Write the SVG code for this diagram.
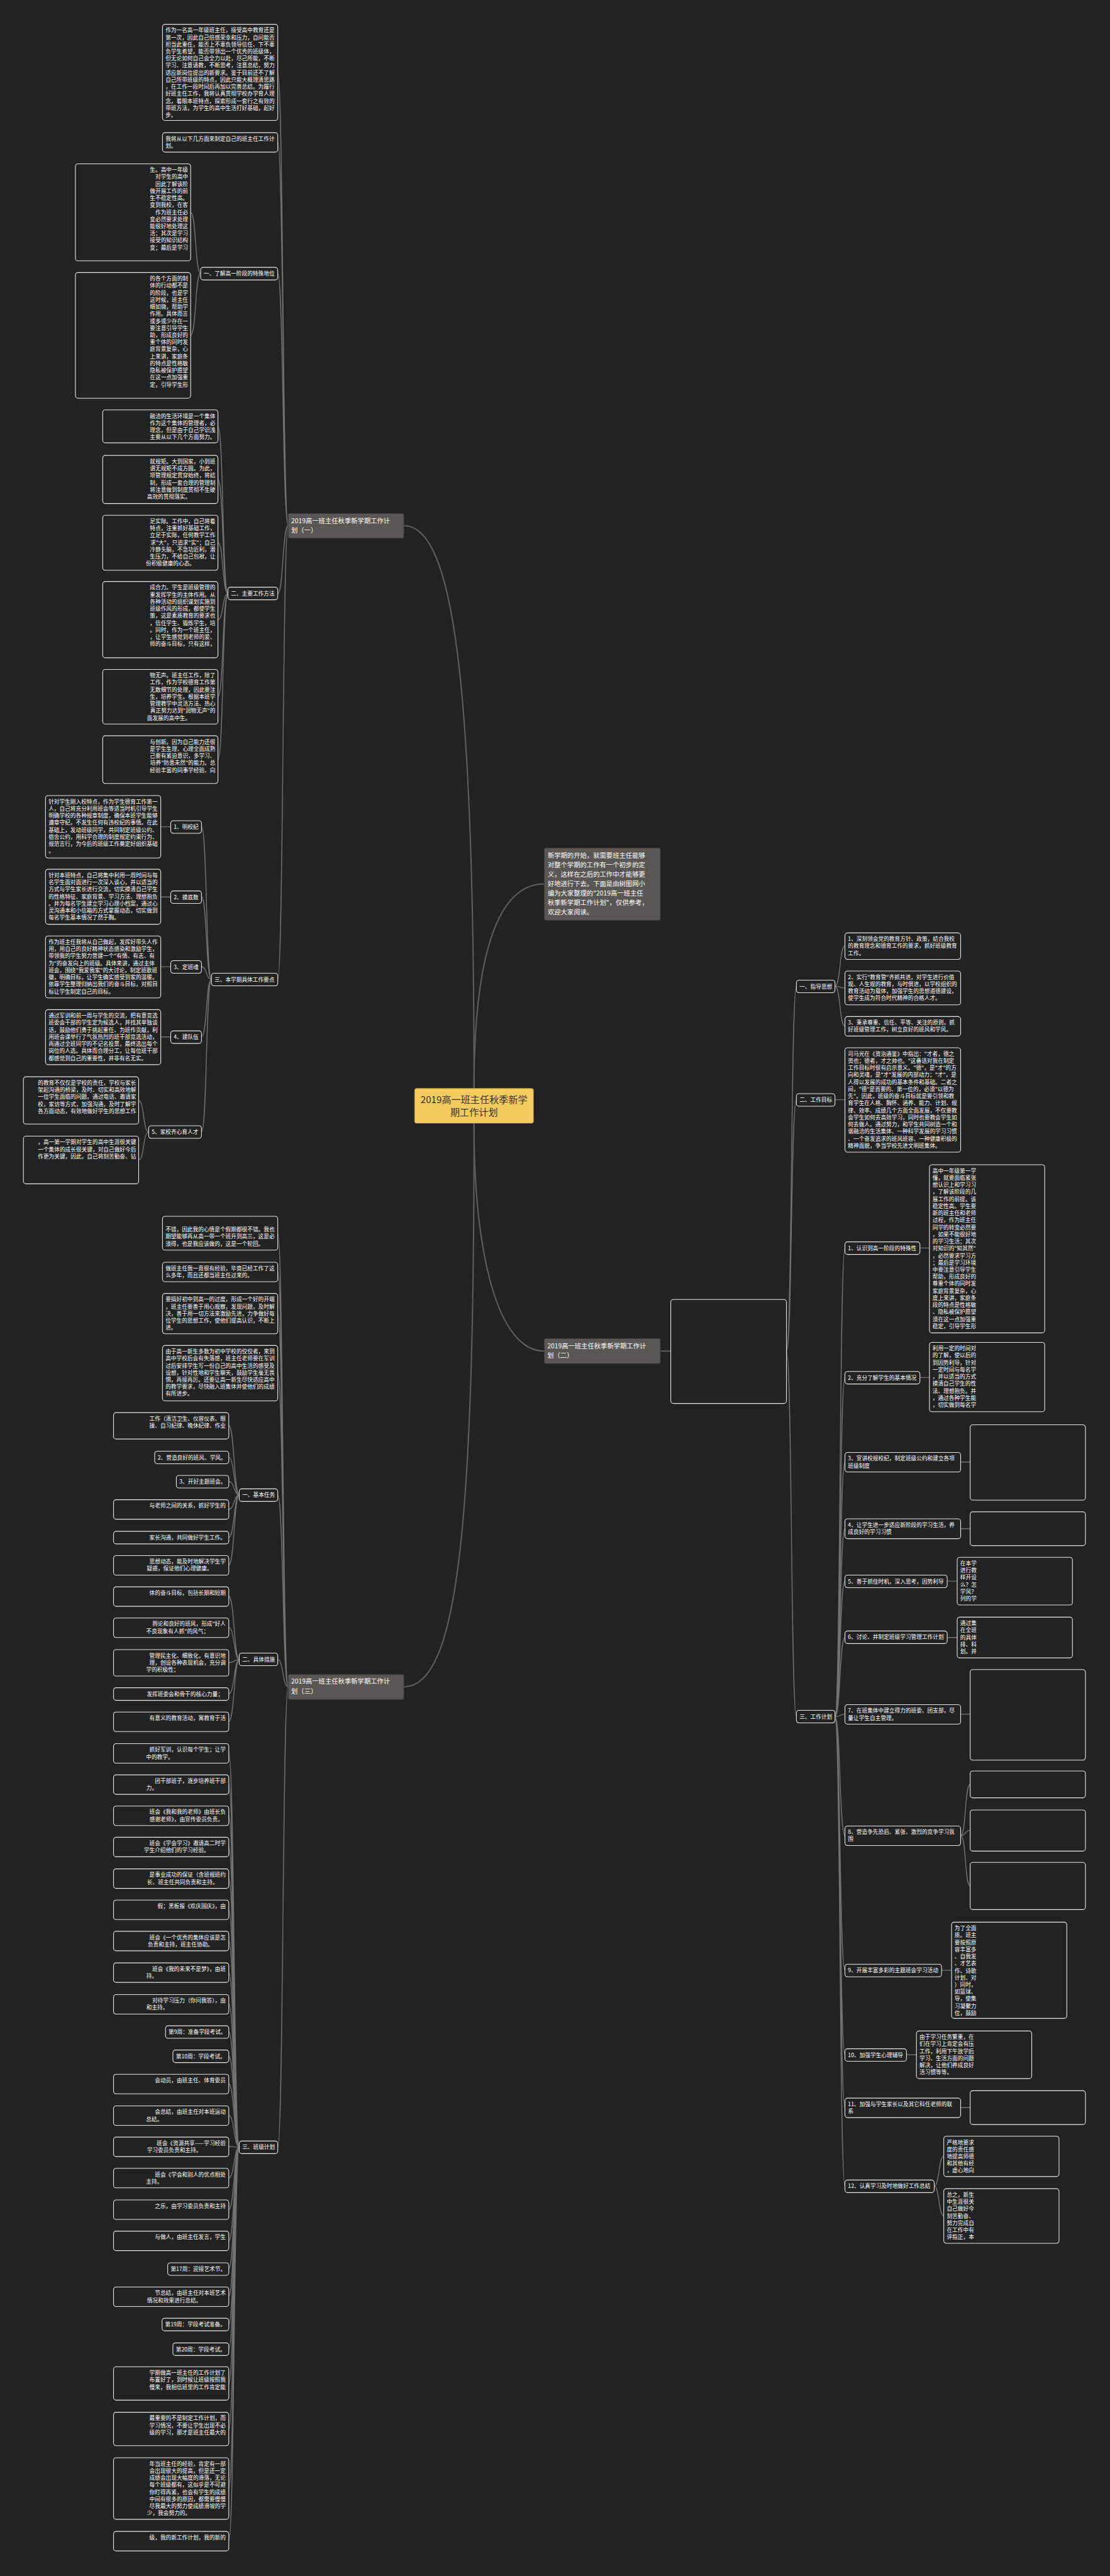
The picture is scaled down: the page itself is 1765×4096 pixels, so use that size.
<svg xmlns="http://www.w3.org/2000/svg" width="1765" height="4096" viewBox="0 0 1765 4096">
<defs><style>
.bg{fill:#222222}
.lf{fill:#222222;stroke:#e6e6e6;stroke-width:1.6}
.t{font-family:"Noto Sans CJK SC","Noto Sans",sans-serif;font-size:12.6px;fill:#ffffff}
.te{text-anchor:end}
.br{fill:#5a5654;stroke:#3c3a39;stroke-width:1.2}
.bt{font-family:"Noto Sans CJK SC","Noto Sans",sans-serif;font-size:15px;fill:#ffffff}
.rb{fill:#f6cb5e;stroke:#c79f45;stroke-width:1.2}
.rtx{font-family:"Noto Sans CJK SC","Noto Sans",sans-serif;font-size:22px;fill:#333333;text-anchor:middle}
.c{fill:none;stroke:#727272;stroke-width:2}
.c0{fill:none;stroke:#5e5e5e;stroke-width:3}
</style></defs>
<rect class="bg" width="1765" height="4096"/>
<g transform="scale(0.689)">
<g id="connectors">
<path class="c0" d="M1094,2512 C1094,1600 1050,1213 932,1213"/>
<path class="c0" d="M1094,2512 C1094,2200 1150,2040 1256,2040"/>
<path class="c0" d="M1094,2592 C1094,2900 1150,3118 1256,3118"/>
<path class="c0" d="M1094,2592 C1094,3500 1060,3893 932,3893"/>
<path class="c" d="M1524,3118 L1548,3118"/>
<path class="c" d="M665,1213 C652,1213 654,167 641,167 M665,1213 C652,1213 654,328 641,328 M665,1213 C652,1213 654,631 641,631 M665,1213 C652,1213 654,1370 641,1370 M665,1213 C652,1213 654,2260 641,2260"/>
<path class="c" d="M463,631 C450,631 453,490 440,490 M463,631 C450,631 453,774 440,774"/>
<path class="c" d="M526,1370 C513,1370 516,984 503,984 M526,1370 C513,1370 516,1106 503,1106 M526,1370 C513,1370 516,1252 503,1252 M526,1370 C513,1370 516,1430 503,1430 M526,1370 C513,1370 516,1608 503,1608 M526,1370 C513,1370 516,1753 503,1753"/>
<path class="c" d="M488,2260 C475,2260 478,1908 465,1908 M488,2260 C475,2260 478,2070 465,2070 M488,2260 C475,2260 478,2231 465,2231 M488,2260 C475,2260 478,2393 465,2393 M488,2260 C475,2260 478,2612 465,2612"/>
<path class="c" d="M394,1908 L371,1908 M394,2070 L371,2070 M394,2231 L371,2231 M394,2393 L371,2393"/>
<path class="c" d="M343,2612 C330,2612 333,2540 320,2540 M343,2612 C330,2612 333,2677 320,2677"/>
<path class="c" d="M665,3893 C652,3893 654,2846 641,2846 M665,3893 C652,3893 654,2935 641,2935 M665,3893 C652,3893 654,3031 641,3031 M665,3893 C652,3893 654,3169 641,3169 M665,3893 C652,3893 654,3450 641,3450 M665,3893 C652,3893 654,3830 641,3830 M665,3893 C652,3893 654,4955 641,4955"/>
<path class="c" d="M552,3450 C540,3450 541,3290 528,3290 M552,3450 C540,3450 541,3363 528,3363 M552,3450 C540,3450 541,3419 528,3419 M552,3450 C540,3450 541,3483 528,3483 M552,3450 C540,3450 541,3548 528,3548 M552,3450 C540,3450 541,3612 528,3612"/>
<path class="c" d="M552,3830 C540,3830 541,3684 528,3684 M552,3830 C540,3830 541,3756 528,3756 M552,3830 C540,3830 541,3837 528,3837 M552,3830 C540,3830 541,3909 528,3909 M552,3830 C540,3830 541,3973 528,3973"/>
<path class="c" d="M552,4955 C540,4955 541,4046 528,4046 M552,4955 C540,4955 541,4118 528,4118 M552,4955 C540,4955 541,4190 528,4190 M552,4955 C540,4955 541,4262 528,4262 M552,4955 C540,4955 541,4335 528,4335 M552,4955 C540,4955 541,4407 528,4407 M552,4955 C540,4955 541,4479 528,4479 M552,4955 C540,4955 541,4552 528,4552 M552,4955 C540,4955 541,4625 528,4625 M552,4955 C540,4955 541,4689 528,4689 M552,4955 C540,4955 541,4745 528,4745 M552,4955 C540,4955 541,4809 528,4809 M552,4955 C540,4955 541,4882 528,4882 M552,4955 C540,4955 541,4954 528,4954 M552,4955 C540,4955 541,5026 528,5026 M552,4955 C540,4955 541,5099 528,5099 M552,4955 C540,4955 541,5171 528,5171 M552,4955 C540,4955 541,5236 528,5236 M552,4955 C540,4955 541,5300 528,5300 M552,4955 C540,4955 541,5364 528,5364 M552,4955 C540,4955 541,5421 528,5421 M552,4955 C540,4955 541,5500 528,5500 M552,4955 C540,4955 541,5605 528,5605 M552,4955 C540,4955 541,5743 528,5743 M552,4955 C540,4955 541,5864 528,5864"/>
<path class="c" d="M1815,3118 C1828,3118 1825,2276 1838,2276 M1815,3118 C1828,3118 1825,2538 1838,2538 M1815,3118 C1828,3118 1825,3962 1838,3962"/>
<path class="c" d="M1927,2276 C1940,2276 1937,2183 1950,2183 M1927,2276 C1940,2276 1937,2280 1950,2280 M1927,2276 C1940,2276 1937,2368 1950,2368 M1927,2538 L1950,2538"/>
<path class="c" d="M1927,3962 C1940,3962 1937,2880 1950,2880 M1927,3962 C1940,3962 1937,3179 1950,3179 M1927,3962 C1940,3962 1937,3374 1950,3374 M1927,3962 C1940,3962 1937,3528 1950,3528 M1927,3962 C1940,3962 1937,3649 1950,3649 M1927,3962 C1940,3962 1937,3779 1950,3779 M1927,3962 C1940,3962 1937,3956 1950,3956 M1927,3962 C1940,3962 1937,4236 1950,4236 M1927,3962 C1940,3962 1937,4547 1950,4547 M1927,3962 C1940,3962 1937,4742 1950,4742 M1927,3962 C1940,3962 1937,4864 1950,4864 M1927,3962 C1940,3962 1937,5045 1950,5045"/>
<path class="c" d="M2123,2880 L2145,2880 M2123,3179 L2145,3179 M2217,3374 L2239,3374 M2217,3528 L2239,3528 M2186,3649 L2209,3649 M2186,3779 L2209,3779 M2217,3956 L2239,3956 M2173,4547 L2196,4547 M2092,4742 L2115,4742 M2217,4864 L2239,4864"/>
<path class="c" d="M2217,4236 C2230,4236 2226,4118 2239,4118 M2217,4236 C2230,4236 2226,4224 2239,4224 M2217,4236 C2230,4236 2226,4352 2239,4352 M2156,5045 C2168,5045 2166,4976 2178,4976 M2156,5045 C2168,5045 2166,5114 2178,5114"/>
</g>

<g id="root"><rect class="rb" x="957" y="2512" width="274" height="80" rx="4"/><text class="rtx" x="1094" y="2546">2019高一班主任秋季新学<tspan x="1094" dy="29">期工作计划</tspan></text></g>
<g id="intro"><rect class="br" x="1256" y="1957" width="268" height="167" rx="4"/><text class="bt" x="1264" y="1980">新学期的开始，就需要班主任能够<tspan x="1264" dy="21.6">对整个学期的工作有一个初步的定</tspan><tspan x="1264" dy="21.6">义，这样在之后的工作中才能够更</tspan><tspan x="1264" dy="21.6">好地进行下去。下面是由树图网小</tspan><tspan x="1264" dy="21.6">编为大家整理的"2019高一班主任</tspan><tspan x="1264" dy="21.6">秋季新学期工作计划"，仅供参考，</tspan><tspan x="1264" dy="21.6">欢迎大家阅读。</tspan></text></g>
<g id="b1"><rect class="br" x="665" y="1185" width="267" height="57" rx="4"/><text class="bt" x="672" y="1207">2019高一班主任秋季新学期工作计<tspan x="672" dy="22">划（一）</tspan></text></g>
<g id="b2"><rect class="br" x="1256" y="3089" width="268" height="58" rx="4"/><text class="bt" x="1263" y="3112">2019高一班主任秋季新学期工作计<tspan x="1263" dy="22">划（二）</tspan></text></g>
<g id="b3"><rect class="br" x="665" y="3864" width="267" height="58" rx="4"/><text class="bt" x="672" y="3886">2019高一班主任秋季新学期工作计<tspan x="672" dy="22">划（三）</tspan></text></g>

<g id="nA"><rect class="lf" x="375" y="56" width="266" height="222" rx="6"/><text class="t" x="382" y="74.5">作为一名高一年级班主任，接受高中教育还是<tspan x="382" dy="16.3">第一次，因此自己倍感荣幸和压力，自问能否</tspan><tspan x="382" dy="16.3">担当此重任，能否上不辜负领导信任、下不辜</tspan><tspan x="382" dy="16.3">负学生希望，能否带领出一个优秀的班级体，</tspan><tspan x="382" dy="16.3">但无论如何自己会全力以赴，尽己所能，不断</tspan><tspan x="382" dy="16.3">学习、注意请教，不断思考，注意总结，努力</tspan><tspan x="382" dy="16.3">适应新岗位提出的新要求。鉴于目前还不了解</tspan><tspan x="382" dy="16.3">自己所带班级的特点，因此只能大概理清思路</tspan><tspan x="382" dy="16.3">，在工作一段时间后再加以完善总结。为履行</tspan><tspan x="382" dy="16.3">好班主任工作，我将认真贯彻学校办学育人理</tspan><tspan x="382" dy="16.3">念，着眼本班特点，探索形成一套行之有效的</tspan><tspan x="382" dy="16.3">带班方法，为学生的高中生活打好基础，起好</tspan><tspan x="382" dy="16.3">步。</tspan></text></g>
<g id="nB"><rect class="lf" x="375" y="306" width="266" height="45" rx="6"/><text class="t" x="382" y="324.5">我将从以下几方面来制定自己的班主任工作计<tspan x="382" dy="16.3">划。</tspan></text></g>
<g id="s1"><rect class="lf" x="463" y="617" width="178" height="29" rx="6"/><text class="t" x="470" y="636">一、了解高一阶段的特殊地位</text></g>
<g id="nC"><rect class="lf" x="174" y="378" width="266" height="224" rx="6"/><text class="t te" x="434" y="396.5">生。高中一年级<tspan x="434" dy="16.3">对学生的高中</tspan><tspan x="434" dy="16.3">因此了解该阶</tspan><tspan x="434" dy="16.3">做开展工作的前</tspan><tspan x="434" dy="16.3">生不稳定性高。</tspan><tspan x="434" dy="16.3">变到我校，在客</tspan><tspan x="434" dy="16.3">作为班主任必</tspan><tspan x="434" dy="16.3">变必然要求处理</tspan><tspan x="434" dy="16.3">能很好地处理这</tspan><tspan x="434" dy="16.3">活；其次是学习</tspan><tspan x="434" dy="16.3">接受的知识结构</tspan><tspan x="434" dy="16.3">变；最后是学习</tspan></text></g>
<g id="nD"><rect class="lf" x="174" y="629" width="266" height="290" rx="6"/><text class="t te" x="434" y="647.5">的各个方面的制<tspan x="434" dy="16.3">体的行动都不是</tspan><tspan x="434" dy="16.3">的阶段，也是学</tspan><tspan x="434" dy="16.3">这时候，班主任</tspan><tspan x="434" dy="16.3">细如微，帮助学</tspan><tspan x="434" dy="16.3">作用。具体而言</tspan><tspan x="434" dy="16.3">或多或少存在一</tspan><tspan x="434" dy="16.3">要注意引导学生</tspan><tspan x="434" dy="16.3">助，形成良好的</tspan><tspan x="434" dy="16.3">重个体的同时发</tspan><tspan x="434" dy="16.3">庭背景复杂，心</tspan><tspan x="434" dy="16.3">上来讲，家庭条</tspan><tspan x="434" dy="16.3">的特点是性格敏</tspan><tspan x="434" dy="16.3">隐私被保护愿望</tspan><tspan x="434" dy="16.3">在这一点加强重</tspan><tspan x="434" dy="16.3">定，引导学生形</tspan></text></g>
<g id="s2"><rect class="lf" x="526" y="1355" width="115" height="29" rx="6"/><text class="t" x="533" y="1374">二、主要工作方法</text></g>
<g id="nE"><rect class="lf" x="237" y="946" width="266" height="76" rx="6"/><text class="t te" x="497" y="964.5">融洽的生活环境是一个集体<tspan x="497" dy="16.3">作为这个集体的管理者，必</tspan><tspan x="497" dy="16.3">理念，但是由于自己学识浅</tspan><tspan x="497" dy="16.3">主要从以下几个方面努力。</tspan></text></g>
<g id="nF"><rect class="lf" x="237" y="1051" width="266" height="111" rx="6"/><text class="t te" x="497" y="1069.5">就规矩。大到国家，小到班<tspan x="497" dy="16.3">谓无规矩不成方圆。为此，</tspan><tspan x="497" dy="16.3">项管理规定贯穿始终，将结</tspan><tspan x="497" dy="16.3">制，形成一套合理的管理制</tspan><tspan x="497" dy="16.3">将注意做到制度贯彻不生硬</tspan><tspan x="440" dy="16.3">高效的贯彻落实。</tspan></text></g>
<g id="nG"><rect class="lf" x="237" y="1189" width="266" height="127" rx="6"/><text class="t te" x="497" y="1207.5">足实际。工作中，自己将着<tspan x="497" dy="16.3">特点，注重抓好基础工作，</tspan><tspan x="497" dy="16.3">立足于实际，任何教学工作</tspan><tspan x="497" dy="16.3">求"大"，只追求"实"；自己</tspan><tspan x="497" dy="16.3">冷静头脑，不急功近利，潜</tspan><tspan x="497" dy="16.3">生压力，不给自己包袱，让</tspan><tspan x="450" dy="16.3">份积极健康的心态。</tspan></text></g>
<g id="nH"><rect class="lf" x="237" y="1342" width="266" height="176" rx="6"/><text class="t te" x="497" y="1360.5">成合力。学生是班级管理的<tspan x="497" dy="16.3">重发挥学生的主体作用。从</tspan><tspan x="497" dy="16.3">各种活动的组织谋划实施到</tspan><tspan x="497" dy="16.3">班级作风的形成，都使学生</tspan><tspan x="497" dy="16.3">策，这是素质教育的要求也</tspan><tspan x="497" dy="16.3">，信任学生、锻炼学生，培</tspan><tspan x="497" dy="16.3">。同时，作为一个班主任，</tspan><tspan x="497" dy="16.3">，让学生感觉到老师的爱、</tspan><tspan x="497" dy="16.3">师的奋斗目标，只有这样，</tspan></text></g>
<g id="nI"><rect class="lf" x="237" y="1545" width="266" height="126" rx="6"/><text class="t te" x="497" y="1563.5">物无声。班主任工作，除了<tspan x="497" dy="16.3">工作，作为学校德育工作第</tspan><tspan x="497" dy="16.3">无数细节的处理，因此要注</tspan><tspan x="497" dy="16.3">生，培养学生。根据本班学</tspan><tspan x="497" dy="16.3">管理教学中灵活方法、热心</tspan><tspan x="497" dy="16.3">真正努力达到"润物无声"的</tspan><tspan x="440" dy="16.3">面发展的高中生。</tspan></text></g>
<g id="nJ"><rect class="lf" x="237" y="1698" width="266" height="110" rx="6"/><text class="t te" x="497" y="1716.5">与创新。因为自己能力还很<tspan x="497" dy="16.3">是学生生理、心理全面成熟</tspan><tspan x="497" dy="16.3">己要有紧迫意识，多学习、</tspan><tspan x="497" dy="16.3">培养"防患未然"的能力。总</tspan><tspan x="497" dy="16.3">经验丰富的同事学经验、向</tspan></text></g>
<g id="s3"><rect class="lf" x="488" y="2246" width="153" height="29" rx="6"/><text class="t" x="495" y="2265">三、本学期具体工作要点</text></g>
<g id="l1"><rect class="lf" x="394" y="1894" width="71" height="29" rx="6"/><text class="t" x="401" y="1913">1、明校纪</text></g>
<g id="l2"><rect class="lf" x="394" y="2056" width="71" height="29" rx="6"/><text class="t" x="401" y="2075">2、摸底数</text></g>
<g id="l3"><rect class="lf" x="394" y="2217" width="71" height="29" rx="6"/><text class="t" x="401" y="2236">3、定班魂</text></g>
<g id="l4"><rect class="lf" x="394" y="2379" width="71" height="29" rx="6"/><text class="t" x="401" y="2398">4、建队伍</text></g>
<g id="l5"><rect class="lf" x="343" y="2598" width="122" height="29" rx="6"/><text class="t" x="350" y="2617">5、家校齐心育人才</text></g>
<g id="nK"><rect class="lf" x="105" y="1836" width="266" height="144" rx="6"/><text class="t" x="112" y="1854.5">针对学生刚入校特点，作为学生德育工作第一<tspan x="112" dy="16.3">人，自己将充分利用班会等适当时机引导学生</tspan><tspan x="112" dy="16.3">明确学校的各种规章制度，确保本班学生能够</tspan><tspan x="112" dy="16.3">遵章守纪，不发生任何有违校纪的事情。在此</tspan><tspan x="112" dy="16.3">基础上，发动班级同学，共同制定班级公约、</tspan><tspan x="112" dy="16.3">宿舍公约，用科学合理的制度规定约束行为、</tspan><tspan x="112" dy="16.3">规范言行，为今后的班级工作奠定好组织基础</tspan><tspan x="112" dy="16.3">。</tspan></text></g>
<g id="nL"><rect class="lf" x="105" y="2006" width="266" height="127" rx="6"/><text class="t" x="112" y="2024.5">针对本班特点，自己将集中利用一周时间与每<tspan x="112" dy="16.3">名学生面对面进行一次深入谈心，并以适当的</tspan><tspan x="112" dy="16.3">方式与学生家长进行交流，切实摸清自己学生</tspan><tspan x="112" dy="16.3">的性格特征、家庭背景、学习方法、理想抱负</tspan><tspan x="112" dy="16.3">。并为每名学生建立学习心理小档案，通过心</tspan><tspan x="112" dy="16.3">灵沟通本和小信箱的方式掌握动态，切实做到</tspan><tspan x="112" dy="16.3">每名学生基本情况了然于胸。</tspan></text></g>
<g id="nM"><rect class="lf" x="105" y="2160" width="266" height="143" rx="6"/><text class="t" x="112" y="2178.5">作为班主任我将从自己做起，发挥好带头人作<tspan x="112" dy="16.3">用，用自己的良好精神状态感染和激励学生，</tspan><tspan x="112" dy="16.3">带领我的学生努力营建一个"有情、有志、有</tspan><tspan x="112" dy="16.3">为"的奋发向上的班级。具体来讲，通过主体</tspan><tspan x="112" dy="16.3">班会，围绕"我爱我家"的大讨论，制定班歌班</tspan><tspan x="112" dy="16.3">徽，明确目标，让学生确实感受到家的温暖。</tspan><tspan x="112" dy="16.3">依靠学生整理归纳出我们的奋斗目标，对照目</tspan><tspan x="112" dy="16.3">标让学生制定自己的目标。</tspan></text></g>
<g id="nN"><rect class="lf" x="105" y="2330" width="266" height="127" rx="6"/><text class="t" x="112" y="2348.5">通过军训和前一周与学生的交流，把有意竞选<tspan x="112" dy="16.3">班委会干部的学生定为候选人，并找其单独谈</tspan><tspan x="112" dy="16.3">话，鼓励他们勇于挑起重任、为班作贡献，利</tspan><tspan x="112" dy="16.3">用班会课举行了气氛热烈的班干部竞选活动，</tspan><tspan x="112" dy="16.3">再通过全班同学的不记名投票，最终选出每个</tspan><tspan x="112" dy="16.3">岗位的人选。具体而合理分工，让每位班干部</tspan><tspan x="112" dy="16.3">都感觉到自己的重要性，并非有名无实。</tspan></text></g>
<g id="nO"><rect class="lf" x="54" y="2485" width="266" height="109" rx="6"/><text class="t te" x="314" y="2503.5">的教育不仅仅是学校的责任，学校与家长<tspan x="314" dy="16.3">架起沟通的桥梁，及时、切实和高效地解</tspan><tspan x="314" dy="16.3">一位学生面临的问题。通过电话、邀请家</tspan><tspan x="314" dy="16.3">校，家访等方式，加强沟通，及时了解学</tspan><tspan x="314" dy="16.3">各方面动态，有效地做好学生的思想工作</tspan></text></g>
<g id="nP"><rect class="lf" x="54" y="2622" width="266" height="110" rx="6"/><text class="t te" x="314" y="2640.5">，高一第一学期对学生的高中生涯很关键<tspan x="314" dy="16.3">一个集体的成长很关键，对自己做好今后</tspan><tspan x="314" dy="16.3">作更为关键，因此，自己将刻苦勤奋、钻</tspan></text></g>

<g id="nQ"><rect class="lf" x="375" y="2807" width="266" height="78" rx="6"/><text class="t" x="382" y="2842.1">不错，因此我的心情是个假期都很不错。我也<tspan x="382" dy="16.3">期望能够再从高一带一个班升到高三，这是必</tspan><tspan x="382" dy="16.3">须得，也是我应该做的，这是一个轮回。</tspan></text></g>
<g id="nR"><rect class="lf" x="375" y="2913" width="266" height="45" rx="6"/><text class="t" x="382" y="2931.5">做班主任我一直很有经验，毕竟已经工作了这<tspan x="382" dy="16.3">么多年，而且还都当班主任过来的。</tspan></text></g>
<g id="nS"><rect class="lf" x="375" y="2985" width="266" height="93" rx="6"/><text class="t" x="382" y="3003.5">要搞好初中到高一的过度，形成一个好的开端<tspan x="382" dy="16.3">，班主任要善于用心观察，发现问题，及时解</tspan><tspan x="382" dy="16.3">决，善于用一切方法来激励先进，力争做好每</tspan><tspan x="382" dy="16.3">位学生的思想工作，使他们提高认识，不断上</tspan><tspan x="382" dy="16.3">进。</tspan></text></g>
<g id="nT"><rect class="lf" x="375" y="3105" width="266" height="128" rx="6"/><text class="t" x="382" y="3123.5">由于高一新生多数为初中学校的佼佼者，来到<tspan x="382" dy="16.3">高中学校后会有失落感，班主任老师要在军训</tspan><tspan x="382" dy="16.3">过后安排学生写一份自己的高中生活的感受及</tspan><tspan x="382" dy="16.3">设想，针对性地和学生聊天，鼓励学生毫无畏</tspan><tspan x="382" dy="16.3">惧，再接再厉。还要让高一新生尽快适应高中</tspan><tspan x="382" dy="16.3">的教学要求，尽快融入班集体并使他们的成绩</tspan><tspan x="382" dy="16.3">有所进步。</tspan></text></g>
<g id="sA"><rect class="lf" x="552" y="3436" width="89" height="29" rx="6"/><text class="t" x="559" y="3455">一、基本任务</text></g>
<g id="sB"><rect class="lf" x="552" y="3815" width="89" height="29" rx="6"/><text class="t" x="559" y="3834">二、具体措施</text></g>
<g id="sC"><rect class="lf" x="552" y="4941" width="89" height="29" rx="6"/><text class="t" x="559" y="4960">三、班级计划</text></g>
<g id="a1"><rect class="lf" x="262" y="3260" width="266" height="61" rx="6"/><text class="t te" x="521" y="3278.5">工作（清洁卫生、仪容仪表、眼<tspan x="521" dy="16.3">操、自习纪律、晚休纪律、作业</tspan></text></g>
<g id="a2"><rect class="lf" x="357" y="3349" width="171" height="29" rx="6"/><text class="t" x="364" y="3368">2、营造良好的班风、学风。</text></g>
<g id="a3"><rect class="lf" x="407" y="3405" width="121" height="29" rx="6"/><text class="t" x="414" y="3424">3、开好主题班会。</text></g>
<g id="a4"><rect class="lf" x="262" y="3461" width="266" height="45" rx="6"/><text class="t te" x="521" y="3479.5">与老师之间的关系，抓好学生的</text></g>
<g id="a5"><rect class="lf" x="262" y="3534" width="266" height="29" rx="6"/><text class="t te" x="521" y="3553">家长沟通，共同做好学生工作。</text></g>
<g id="a6"><rect class="lf" x="262" y="3590" width="266" height="45" rx="6"/><text class="t te" x="521" y="3608.5">思想动态，能及时地解决学生学<tspan x="490" dy="16.3">疑惑，保证他们心理健康。</tspan></text></g>
<g id="a7"><rect class="lf" x="262" y="3662" width="266" height="45" rx="6"/><text class="t te" x="521" y="3680.5">体的奋斗目标，包括长期和短期</text></g>
<g id="c1"><rect class="lf" x="262" y="3734" width="266" height="45" rx="6"/><text class="t te" x="521" y="3752.5">舆论和良好的班风，形成"好人<tspan x="482" dy="16.3">不良现象有人抓"的风气；</tspan></text></g>
<g id="c2"><rect class="lf" x="262" y="3807" width="266" height="61" rx="6"/><text class="t te" x="521" y="3825.5">管理民主化、细致化，有意识地<tspan x="521" dy="16.3">理，创设各种表现机会，充分调</tspan><tspan x="413" dy="16.3">学的积极性；</tspan></text></g>
<g id="c3"><rect class="lf" x="262" y="3895" width="266" height="29" rx="6"/><text class="t te" x="515" y="3914">发挥班委会和骨干的核心力量；</text></g>
<g id="c4"><rect class="lf" x="262" y="3951" width="266" height="45" rx="6"/><text class="t te" x="521" y="3969.5">有意义的教育活动，寓教育于活</text></g>
<g id="w1"><rect class="lf" x="262" y="4024" width="266" height="45" rx="6"/><text class="t te" x="521" y="4042.5">抓好军训，认识每个学生；让学<tspan x="400" dy="16.3">中的教学。</tspan></text></g>
<g id="w2"><rect class="lf" x="262" y="4096" width="266" height="45" rx="6"/><text class="t te" x="521" y="4114.5">团干部班子，逐步培养班干部<tspan x="363" dy="16.3">力。</tspan></text></g>
<g id="w3"><rect class="lf" x="262" y="4168" width="266" height="45" rx="6"/><text class="t te" x="521" y="4186.5">班会《我和我的老师》由班长负<tspan x="515" dy="16.3">感谢老师》，由宣传委员负责。</tspan></text></g>
<g id="w4"><rect class="lf" x="262" y="4240" width="266" height="45" rx="6"/><text class="t te" x="521" y="4258.5">班会《学会学习》邀请高二时学<tspan x="483" dy="16.3">学生介绍他们的学习经验。</tspan></text></g>
<g id="w5"><rect class="lf" x="262" y="4313" width="266" height="45" rx="6"/><text class="t te" x="521" y="4331.5">是事业成功的保证（含班规班约<tspan x="503" dy="16.3">长、班主任共同负责和主持。</tspan></text></g>
<g id="w6"><rect class="lf" x="262" y="4385" width="266" height="45" rx="6"/><text class="t te" x="521" y="4403.5">假；黑板报《欢庆国庆》，由</text></g>
<g id="w7"><rect class="lf" x="262" y="4457" width="266" height="45" rx="6"/><text class="t te" x="521" y="4475.5">班会《一个优秀的集体应该是怎<tspan x="492" dy="16.3">负责和主持，班主任协助。</tspan></text></g>
<g id="w8"><rect class="lf" x="262" y="4530" width="266" height="45" rx="6"/><text class="t te" x="521" y="4548.5">班会《我的未来不是梦》，由班<tspan x="363" dy="16.3">持。</tspan></text></g>
<g id="w9"><rect class="lf" x="262" y="4603" width="266" height="45" rx="6"/><text class="t te" x="521" y="4621.5">对待学习压力（你问我答），由<tspan x="388" dy="16.3">和主持。</tspan></text></g>
<g id="w9b"><rect class="lf" x="382" y="4675" width="146" height="29" rx="6"/><text class="t" x="389" y="4694">第9周：准备学段考试。</text></g>
<g id="w10b"><rect class="lf" x="399" y="4731" width="129" height="29" rx="6"/><text class="t" x="406" y="4750">第10周：学段考试。</text></g>
<g id="w10"><rect class="lf" x="262" y="4787" width="266" height="45" rx="6"/><text class="t te" x="521" y="4805.5">会动员，由班主任、体育委员</text></g>
<g id="w11"><rect class="lf" x="262" y="4860" width="266" height="45" rx="6"/><text class="t te" x="521" y="4878.5">会总结，由班主任对本班运动<tspan x="375" dy="16.3">总结。</tspan></text></g>
<g id="w12"><rect class="lf" x="262" y="4932" width="266" height="45" rx="6"/><text class="t te" x="521" y="4950.5">班会《资源共享——学习经验<tspan x="465" dy="16.3">学习委员负责和主持。</tspan></text></g>
<g id="w13"><rect class="lf" x="262" y="5004" width="266" height="45" rx="6"/><text class="t te" x="521" y="5022.5">班会《学会和别人的优点相处<tspan x="375" dy="16.3">主持。</tspan></text></g>
<g id="w14"><rect class="lf" x="262" y="5077" width="266" height="45" rx="6"/><text class="t te" x="521" y="5095.5">之乐，由学习委员负责和主持</text></g>
<g id="w15"><rect class="lf" x="262" y="5149" width="266" height="45" rx="6"/><text class="t te" x="521" y="5167.5">与做人，由班主任发言，学生</text></g>
<g id="w17b"><rect class="lf" x="387" y="5222" width="141" height="29" rx="6"/><text class="t" x="394" y="5241">第17周：迎接艺术节。</text></g>
<g id="w16"><rect class="lf" x="262" y="5278" width="266" height="45" rx="6"/><text class="t te" x="521" y="5296.5">节总结，由班主任对本班艺术<tspan x="465" dy="16.3">情况和效果进行总结。</tspan></text></g>
<g id="w19b"><rect class="lf" x="374" y="5350" width="154" height="29" rx="6"/><text class="t" x="381" y="5369">第19周：学段考试准备。</text></g>
<g id="w20b"><rect class="lf" x="399" y="5407" width="129" height="29" rx="6"/><text class="t" x="406" y="5426">第20周：学段考试。</text></g>
<g id="f1"><rect class="lf" x="262" y="5462" width="266" height="77" rx="6"/><text class="t te" x="521" y="5480.5">学期做高一班主任的工作计划了<tspan x="521" dy="16.3">布置好了，到时候让班级按照我</tspan><tspan x="521" dy="16.3">慢来，我相信班里的工作肯定能</tspan></text></g>
<g id="f2"><rect class="lf" x="262" y="5567" width="266" height="77" rx="6"/><text class="t te" x="521" y="5585.5">最重要的不是制定工作计划，而<tspan x="521" dy="16.3">学习情况，不要让学生出现不必</tspan><tspan x="521" dy="16.3">级的学习，那才是班主任最大的</tspan></text></g>
<g id="f3"><rect class="lf" x="262" y="5672" width="266" height="142" rx="6"/><text class="t te" x="521" y="5690.5">年当班主任的经验，肯定有一部<tspan x="521" dy="16.3">会出现很大的提高，但是还一定</tspan><tspan x="521" dy="16.3">成绩会出现大幅度的滑落，无论</tspan><tspan x="521" dy="16.3">每个班级都有，这似乎是不可避</tspan><tspan x="521" dy="16.3">你盯得再紧，也会有学生的成绩</tspan><tspan x="521" dy="16.3">中间有很多的原因，都需要慢慢</tspan><tspan x="521" dy="16.3">尽我最大的努力使成绩滑坡的学</tspan><tspan x="440" dy="16.3">少，我会努力的。</tspan></text></g>
<g id="f4"><rect class="lf" x="262" y="5842" width="266" height="45" rx="6"/><text class="t te" x="521" y="5860.5">级，我的新工作计划，我的新的</text></g>

<g id="nX"><rect class="lf" x="1548" y="2999" width="267" height="240" rx="6"/></g>
<g id="sI"><rect class="lf" x="1838" y="2262" width="89" height="29" rx="6"/><text class="t" x="1845" y="2281">一、指导思想</text></g>
<g id="sII"><rect class="lf" x="1838" y="2524" width="89" height="29" rx="6"/><text class="t" x="1845" y="2543">二、工作目标</text></g>
<g id="sIII"><rect class="lf" x="1838" y="3947" width="89" height="29" rx="6"/><text class="t" x="1845" y="3966">三、工作计划</text></g>
<g id="r1"><rect class="lf" x="1950" y="2153" width="267" height="61" rx="6"/><text class="t" x="1957" y="2171.5">1、深刻领会党的教育方针、政策，结合我校<tspan x="1957" dy="16.3">的教育理念和德育工作的要求，抓好班级教育</tspan><tspan x="1957" dy="16.3">工作。</tspan></text></g>
<g id="r2"><rect class="lf" x="1950" y="2241" width="267" height="78" rx="6"/><text class="t" x="1957" y="2259.5">2、实行"教育管"齐抓共进，对学生进行价值<tspan x="1957" dy="16.3">观、人生观的教育，与时俱进，以学校组织的</tspan><tspan x="1957" dy="16.3">教育活动为载体，加强学生的思想道德建设，</tspan><tspan x="1957" dy="16.3">使学生成为符合时代精神的合格人才。</tspan></text></g>
<g id="r3"><rect class="lf" x="1950" y="2346" width="267" height="45" rx="6"/><text class="t" x="1957" y="2364.5">3、秉承尊重、信任、平等、关注的原则，抓<tspan x="1957" dy="16.3">好班级管理工作，树立良好的班风和学风。</tspan></text></g>
<g id="r4"><rect class="lf" x="1950" y="2418" width="267" height="241" rx="6"/><text class="t" x="1957" y="2436.5">司马光在《资治通鉴》中指出："才者，德之<tspan x="1957" dy="16.3">资也；德者，才之帅也。"这番话对我在制定</tspan><tspan x="1957" dy="16.3">工作目标时很有启示意义。"德"，是"才"的方</tspan><tspan x="1957" dy="16.3">向和灵魂，是"才"发展的内部动力；"才"，是</tspan><tspan x="1957" dy="16.3">人得以发展的成功的基本条件和基础。二者之</tspan><tspan x="1957" dy="16.3">间，"德"是首要的、第一位的，必须"以德为</tspan><tspan x="1957" dy="16.3">先"。因此，班级的奋斗目标就是要引领和教</tspan><tspan x="1957" dy="16.3">育学生在人格、胸怀、涵养、能力、计划、规</tspan><tspan x="1957" dy="16.3">律、效率、成绩几个方面全面发展，不仅要教</tspan><tspan x="1957" dy="16.3">会学生如何去高效学习，同时也要教会学生如</tspan><tspan x="1957" dy="16.3">何去做人。通过努力，和学生共同树造一个和</tspan><tspan x="1957" dy="16.3">谐融洽的生活集体、一种科学发展的学习习惯</tspan><tspan x="1957" dy="16.3">、一个奋发追求的班风班容、一种健康积极的</tspan><tspan x="1957" dy="16.3">精神面貌，争当学校先进文明班集体。</tspan></text></g>
<g id="i1"><rect class="lf" x="1950" y="2866" width="173" height="29" rx="6"/><text class="t" x="1957" y="2885">1、认识到高一阶段的特殊性</text></g>
<g id="i2"><rect class="lf" x="1950" y="3165" width="173" height="29" rx="6"/><text class="t" x="1957" y="3184">2、充分了解学生的基本情况</text></g>
<g id="i3"><rect class="lf" x="1950" y="3352" width="267" height="45" rx="6"/><text class="t" x="1957" y="3370.5">3、宣讲校规校纪，制定班级公约和建立各项<tspan x="1957" dy="16.3">班级制度</tspan></text></g>
<g id="i4"><rect class="lf" x="1950" y="3505" width="267" height="46" rx="6"/><text class="t" x="1957" y="3523.5">4、让学生进一步适应新阶段的学习生活，养<tspan x="1957" dy="16.3">成良好的学习习惯</tspan></text></g>
<g id="i5"><rect class="lf" x="1950" y="3635" width="236" height="29" rx="6"/><text class="t" x="1957" y="3654">5、善于抓住时机，深入思考，因势利导</text></g>
<g id="i6"><rect class="lf" x="1950" y="3764" width="236" height="29" rx="6"/><text class="t" x="1957" y="3783">6、讨论、并制定班级学习管理工作计划</text></g>
<g id="i7"><rect class="lf" x="1950" y="3934" width="267" height="45" rx="6"/><text class="t" x="1957" y="3952.5">7、在班集体中建立得力的班委、团支部，尽<tspan x="1957" dy="16.3">量让学生自主管理。</tspan></text></g>
<g id="i8"><rect class="lf" x="1950" y="4214" width="267" height="45" rx="6"/><text class="t" x="1957" y="4232.5">8、营造争先恐后、紧张、激烈的竞争学习氛<tspan x="1957" dy="16.3">围</tspan></text></g>
<g id="i9"><rect class="lf" x="1950" y="4533" width="223" height="29" rx="6"/><text class="t" x="1957" y="4552">9、开展丰富多彩的主题班会学习活动</text></g>
<g id="i10"><rect class="lf" x="1950" y="4728" width="142" height="29" rx="6"/><text class="t" x="1957" y="4747">10、加强学生心理辅导</text></g>
<g id="i11"><rect class="lf" x="1950" y="4842" width="267" height="45" rx="6"/><text class="t" x="1957" y="4860.5">11、加强与学生家长以及其它科任老师的联<tspan x="1957" dy="16.3">系</tspan></text></g>
<g id="i12"><rect class="lf" x="1950" y="5031" width="206" height="29" rx="6"/><text class="t" x="1957" y="5050">12、认真学习及时地做好工作总结</text></g>
<g id="k1"><rect class="lf" x="2145" y="2688" width="266" height="388" rx="6"/><text class="t" x="2152" y="2706.5">高中一年级第一学<tspan x="2152" dy="16.3">懂，就要面临紧张</tspan><tspan x="2152" dy="16.3">想认识上和学习习</tspan><tspan x="2152" dy="16.3">，了解该阶段的几</tspan><tspan x="2152" dy="16.3">展工作的前提。该</tspan><tspan x="2152" dy="16.3">稳定性高。学生要</tspan><tspan x="2152" dy="16.3">新的班主任和老师</tspan><tspan x="2152" dy="16.3">过程，作为班主任</tspan><tspan x="2152" dy="16.3">同学的转变必然要</tspan><tspan x="2152" dy="16.3">，如果不能很好地</tspan><tspan x="2152" dy="16.3">的学习生活；其次</tspan><tspan x="2152" dy="16.3">对知识的"知其然"</tspan><tspan x="2152" dy="16.3">，必然要求学习方</tspan><tspan x="2152" dy="16.3">；最后是学习环境</tspan><tspan x="2152" dy="16.3">中要注意引导学生</tspan><tspan x="2152" dy="16.3">帮助，形成良好的</tspan><tspan x="2152" dy="16.3">尊重个体的同时发</tspan><tspan x="2152" dy="16.3">家庭背景复杂，心</tspan><tspan x="2152" dy="16.3">度上来讲，家庭条</tspan><tspan x="2152" dy="16.3">段的特点是性格敏</tspan><tspan x="2152" dy="16.3">、隐私被保护愿望</tspan><tspan x="2152" dy="16.3">须在这一点加强重</tspan><tspan x="2152" dy="16.3">稳定，引导学生形</tspan></text></g>
<g id="k2"><rect class="lf" x="2145" y="3098" width="266" height="160" rx="6"/><text class="t" x="2152" y="3116.5">利用一定的时间对<tspan x="2152" dy="16.3">的了解，使以后的</tspan><tspan x="2152" dy="16.3">到因势利导，针对</tspan><tspan x="2152" dy="16.3">一定时间与每名学</tspan><tspan x="2152" dy="16.3">，并以适当的方式</tspan><tspan x="2152" dy="16.3">摸清自己学生的性</tspan><tspan x="2152" dy="16.3">法、理想抱负。并</tspan><tspan x="2152" dy="16.3">，通过各种学生能</tspan><tspan x="2152" dy="16.3">，切实做到每名学</tspan></text></g>
<g id="k3"><rect class="lf" x="2239" y="3288" width="266" height="174" rx="6"/></g>
<g id="k4"><rect class="lf" x="2239" y="3489" width="266" height="78" rx="6"/></g>
<g id="k5"><rect class="lf" x="2209" y="3594" width="266" height="110" rx="6"/><text class="t" x="2216" y="3612.5">在本学<tspan x="2216" dy="16.3">进行教</tspan><tspan x="2216" dy="16.3">样开设</tspan><tspan x="2216" dy="16.3">么？怎</tspan><tspan x="2216" dy="16.3">学风？</tspan><tspan x="2216" dy="16.3">列的学</tspan></text></g>
<g id="k6"><rect class="lf" x="2209" y="3732" width="266" height="94" rx="6"/><text class="t" x="2216" y="3750.5">通过集<tspan x="2216" dy="16.3">在全班</tspan><tspan x="2216" dy="16.3">的具体</tspan><tspan x="2216" dy="16.3">排、科</tspan><tspan x="2216" dy="16.3">划。并</tspan></text></g>
<g id="k7"><rect class="lf" x="2239" y="3853" width="266" height="209" rx="6"/></g>
<g id="k8a"><rect class="lf" x="2239" y="4087" width="266" height="62" rx="6"/></g>
<g id="k8b"><rect class="lf" x="2239" y="4177" width="266" height="95" rx="6"/></g>
<g id="k8c"><rect class="lf" x="2239" y="4298" width="266" height="109" rx="6"/></g>
<g id="k9"><rect class="lf" x="2196" y="4436" width="266" height="222" rx="6"/><text class="t" x="2203" y="4454.5">为了全面<tspan x="2203" dy="16.3">质。班主</tspan><tspan x="2203" dy="16.3">要按照原</tspan><tspan x="2203" dy="16.3">容丰富多</tspan><tspan x="2203" dy="16.3">、自我发</tspan><tspan x="2203" dy="16.3">、才艺表</tspan><tspan x="2203" dy="16.3">作、诗歌</tspan><tspan x="2203" dy="16.3">计划、对</tspan><tspan x="2203" dy="16.3">）同时，</tspan><tspan x="2203" dy="16.3">如篮球、</tspan><tspan x="2203" dy="16.3">导，使集</tspan><tspan x="2203" dy="16.3">习凝聚力</tspan><tspan x="2203" dy="16.3">位，鼓励</tspan></text></g>
<g id="k10"><rect class="lf" x="2115" y="4687" width="266" height="110" rx="6"/><text class="t" x="2122" y="4705.5">由于学习任务繁重，在<tspan x="2122" dy="16.3">们在学习上肯定会有压</tspan><tspan x="2122" dy="16.3">工作，利用下午放学后</tspan><tspan x="2122" dy="16.3">学习、生活方面的问题</tspan><tspan x="2122" dy="16.3">解决，让他们养成良好</tspan><tspan x="2122" dy="16.3">活习惯等等。</tspan></text></g>
<g id="k11"><rect class="lf" x="2239" y="4825" width="266" height="78" rx="6"/></g>
<g id="k12a"><rect class="lf" x="2178" y="4930" width="266" height="93" rx="6"/><text class="t" x="2185" y="4948.5">严格地要求<tspan x="2185" dy="16.3">度的责任感</tspan><tspan x="2185" dy="16.3">地提高师德</tspan><tspan x="2185" dy="16.3">和其他有经</tspan><tspan x="2185" dy="16.3">，虚心地向</tspan></text></g>
<g id="k12b"><rect class="lf" x="2178" y="5051" width="266" height="126" rx="6"/><text class="t" x="2185" y="5069.5">总之，新生<tspan x="2185" dy="16.3">中生涯很关</tspan><tspan x="2185" dy="16.3">自己做好今</tspan><tspan x="2185" dy="16.3">刻苦勤奋、</tspan><tspan x="2185" dy="16.3">努力完成自</tspan><tspan x="2185" dy="16.3">在工作中有</tspan><tspan x="2185" dy="16.3">评指正，本</tspan></text></g>
</g>
</svg>
